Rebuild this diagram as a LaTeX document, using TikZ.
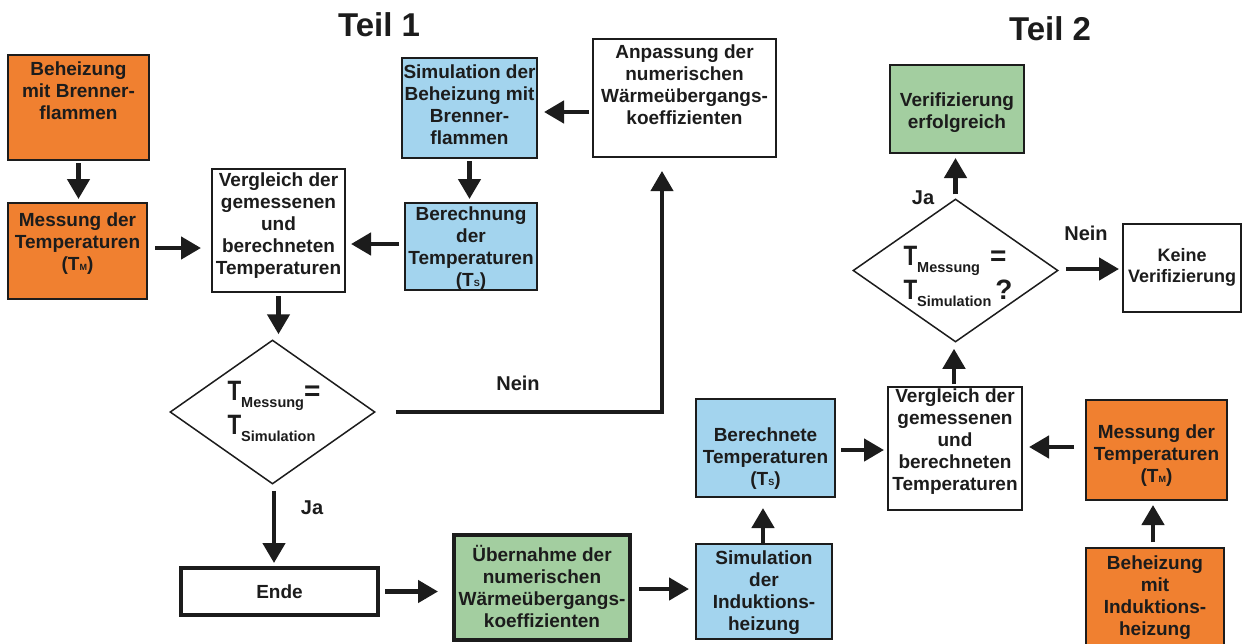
\documentclass[tikz,border=0pt]{standalone}
\usepackage{graphicx}
\usepackage{fontspec}
\setmainfont{Liberation Sans}
\usetikzlibrary{arrows.meta,shapes.geometric}
\definecolor{orng}{RGB}{240,128,48}
\definecolor{lblue}{RGB}{163,212,238}
\definecolor{lgreen}{RGB}{163,206,160}
\definecolor{ink}{RGB}{28,28,28}
\newcommand{\bigTT}{{\fontsize{28}{34}\selectfont\scalebox{0.8}[1]{T}}}
\newcommand{\subtxt}[1]{\raisebox{-7pt}{\fontsize{14.5}{14.5}\selectfont #1}}
\newcommand{\bigsym}[1]{{\fontsize{28}{34}\selectfont #1}}
\newcommand{\tsub}[1]{(T{\fontsize{9}{9}\selectfont #1})}
\tikzset{
  box/.style={draw=ink, line width=2pt, inner sep=0pt, anchor=center},
  thickbox/.style={box, line width=4pt},
  dia/.style={draw=ink, line width=1.5pt, diamond, inner sep=0pt, anchor=center},
  txt/.style={align=center, font=\bfseries\fontsize{19}{22}\selectfont, text=ink, inner sep=0pt},
  dtxt/.style={align=left, font=\bfseries\fontsize{28}{34}\selectfont, text=ink, inner sep=0pt},
  lbl/.style={font=\bfseries\fontsize{20}{22}\selectfont, text=ink, inner sep=0pt},
  ttl/.style={font=\bfseries\fontsize{33}{36}\selectfont, text=ink, inner sep=0pt},
  arr/.style={draw=ink, line width=4.5pt, -{Triangle[length=20pt,width=22pt]}},
}
\begin{document}
\begin{tikzpicture}[x=1pt,y=-1pt]
\useasboundingbox (0,0) rectangle (1247,643);
\clip (0,0) rectangle (1247,643);
\fill[white] (0,0) rectangle (1247,643);

% titles
\node[ttl] (t1) at (379,24.5) {Teil 1};
\node[ttl] (t2) at (1050,29) {Teil 2};

% Teil 1 boxes
\node[box, fill=orng, minimum width=141pt, minimum height=105pt] (b1) at (78.5,107.5) {};
\node[txt] (b1t) at (78.5,91) {Beheizung\\mit Brenner-\\flammen};
\node[box, fill=orng, minimum width=139pt, minimum height=96pt] (m1) at (77.5,251) {};
\node[txt] (m1t) at (77.5,244) {Messung der\\Temperaturen\\\tsub{M}};
\node[box, fill=white, minimum width=133pt, minimum height=123pt] (v1) at (278.5,230.5) {};
\node[txt] (v1t) at (278.5,225.5) {Vergleich der\\gemessenen\\und\\berechneten\\Temperaturen};
\node[box, fill=lblue, minimum width=135pt, minimum height=100pt] (s1) at (469.5,108) {};
\node[txt] (s1t) at (469.5,104.5) {Simulation der\\Beheizung mit\\Brenner-\\flammen};
\node[box, fill=white, minimum width=183pt, minimum height=118pt] (a1) at (684.5,98) {};
\node[txt] (a1t) at (684.5,85) {Anpassung der\\numerischen\\Wärmeübergangs-\\koeffizienten};
\node[box, fill=lblue, minimum width=132pt, minimum height=87pt] (bc1) at (471,246.5) {};
\node[txt] (bc1t) at (471,249) {Berechnung\\der\\Temperaturen\\\tsub{S}};
\node[dia, minimum width=205pt, minimum height=144pt] (d1) at (272.5,412) {};
\node[dtxt] (d1t) at (274,411) {\bigTT\subtxt{Messung}\bigsym{=}\\\bigTT\subtxt{Simulation}};
\node[thickbox, fill=white, minimum width=197pt, minimum height=47pt] (ende) at (279.5,591.5) {};
\node[txt] (endet) at (279.5,591.5) {Ende};
\node[thickbox, fill=lgreen, minimum width=176pt, minimum height=105pt] (ub) at (542,587.5) {};
\node[txt] (ubt) at (542,586.5) {Übernahme der\\numerischen\\Wärmeübergangs-\\koeffizienten};

% Teil 2 boxes
\node[box, fill=lblue, minimum width=136pt, minimum height=95pt] (si) at (764,591.5) {};
\node[txt] (sit) at (764,592.5) {Simulation\\der\\Induktions-\\heizung};
\node[box, fill=lblue, minimum width=139pt, minimum height=98pt] (be) at (765.5,448) {};
\node[txt] (bet) at (765.5,459) {Berechnete\\Temperaturen\\\tsub{S}};
\node[box, fill=white, minimum width=134pt, minimum height=123pt] (v2) at (955,448.5) {};
\node[txt] (v2t) at (955,441.5) {Vergleich der\\gemessenen\\und\\berechneten\\Temperaturen};
\node[box, fill=orng, minimum width=141pt, minimum height=100pt] (m2) at (1156.5,450) {};
\node[txt] (m2t) at (1156.5,455.5) {Messung der\\Temperaturen\\\tsub{M}};
\node[box, fill=orng, minimum width=138pt, minimum height=102pt] (bh2) at (1155,599) {};
\node[txt] (bh2t) at (1155,597.5) {Beheizung\\mit\\Induktions-\\heizung};
\node[dia, minimum width=205pt, minimum height=143pt] (d2) at (955.5,270.5) {};
\node[dtxt] (d2t) at (958,276) {\bigTT\subtxt{Messung}\hspace{10pt}\bigsym{=}\\\bigTT\subtxt{Simulation}\hspace{4pt}\bigsym{?}};
\node[box, fill=lgreen, minimum width=134pt, minimum height=88pt] (vf) at (957,109) {};
\node[txt] (vft) at (957,113) {Verifizierung\\erfolgreich};
\node[box, fill=white, minimum width=118pt, minimum height=88pt] (kv) at (1182,268) {};
\node[txt, font=\bfseries\fontsize{18}{21}\selectfont] (kvt) at (1182,267.5) {Keine\\Verifizierung};

% labels
\node[lbl] (nein1) at (518,383) {Nein};
\node[lbl] (ja1) at (312,508) {Ja};
\node[lbl] (ja2) at (923,198) {Ja};
\node[lbl] (nein2) at (1086,233) {Nein};

% connectors Teil 1
\draw[arr, shorten <=2pt, shorten >=3pt] (b1.south) -- (b1.south |- m1.north);
\draw[arr, shorten <=7pt, shorten >=10pt] ([yshift=3pt]m1.east) -- ([yshift=3pt]m1.east -| v1.west);
\draw[arr, shorten <=5pt, shorten >=5pt] ([yshift=2.5pt]bc1.west) -- ([yshift=2.5pt]bc1.west -| v1.east);
\draw[arr, shorten <=3pt, shorten >=6pt] ([yshift=-14pt]a1.west) -- ([yshift=-14pt]a1.west -| s1.east);
\draw[arr, shorten <=2pt, shorten >=3pt] (s1.south) -- (s1.south |- bc1.north);
\draw[arr, shorten <=3pt, shorten >=5pt] (v1.south) -- (v1.south |- d1.north);
\draw[arr, line width=4pt, shorten <=20pt, shorten >=13pt] (d1.east) -| ([xshift=-22.5pt]a1.south);
\draw[arr, shorten <=6pt, shorten >=3pt] ([xshift=1.5pt]d1.south) -- ([xshift=1.5pt]d1.south |- ende.north);
\draw[arr, shorten <=5pt, shorten >=14pt] (ende.east) -- (ende.east -| ub.west);
\draw[arr, shorten <=7pt, shorten >=6pt] ([yshift=-1.5pt]ub.east) -- ([yshift=-1.5pt]ub.east -| si.west);

% connectors Teil 2
\draw[arr, shorten <=0pt, shorten >=10pt] ([xshift=-1pt]si.north) -- ([xshift=-1pt]si.north |- be.south);
\draw[arr, shorten <=5pt, shorten >=3pt] ([yshift=-2pt]be.east) -- ([yshift=-2pt]be.east -| v2.west);
\draw[arr, shorten <=11pt, shorten >=6pt] ([yshift=3pt]m2.west) -- ([yshift=3pt]m2.west -| v2.east);
\draw[arr, shorten <=5pt, shorten >=4pt] ([xshift=-2pt]bh2.north) -- ([xshift=-2pt]bh2.north |- m2.south);
\draw[arr, shorten <=2pt, shorten >=6pt] ([xshift=-1pt]v2.north) -- ([xshift=-1pt]v2.north |- d2.south);
\draw[arr, shorten <=4pt, shorten >=4pt] (d2.north) -- (d2.north |- vf.south);
\draw[arr, shorten <=7pt, shorten >=3pt] ([yshift=1.5pt]d2.east) -- ([yshift=1.5pt]d2.east -| kv.west);
\end{tikzpicture}
\end{document}
